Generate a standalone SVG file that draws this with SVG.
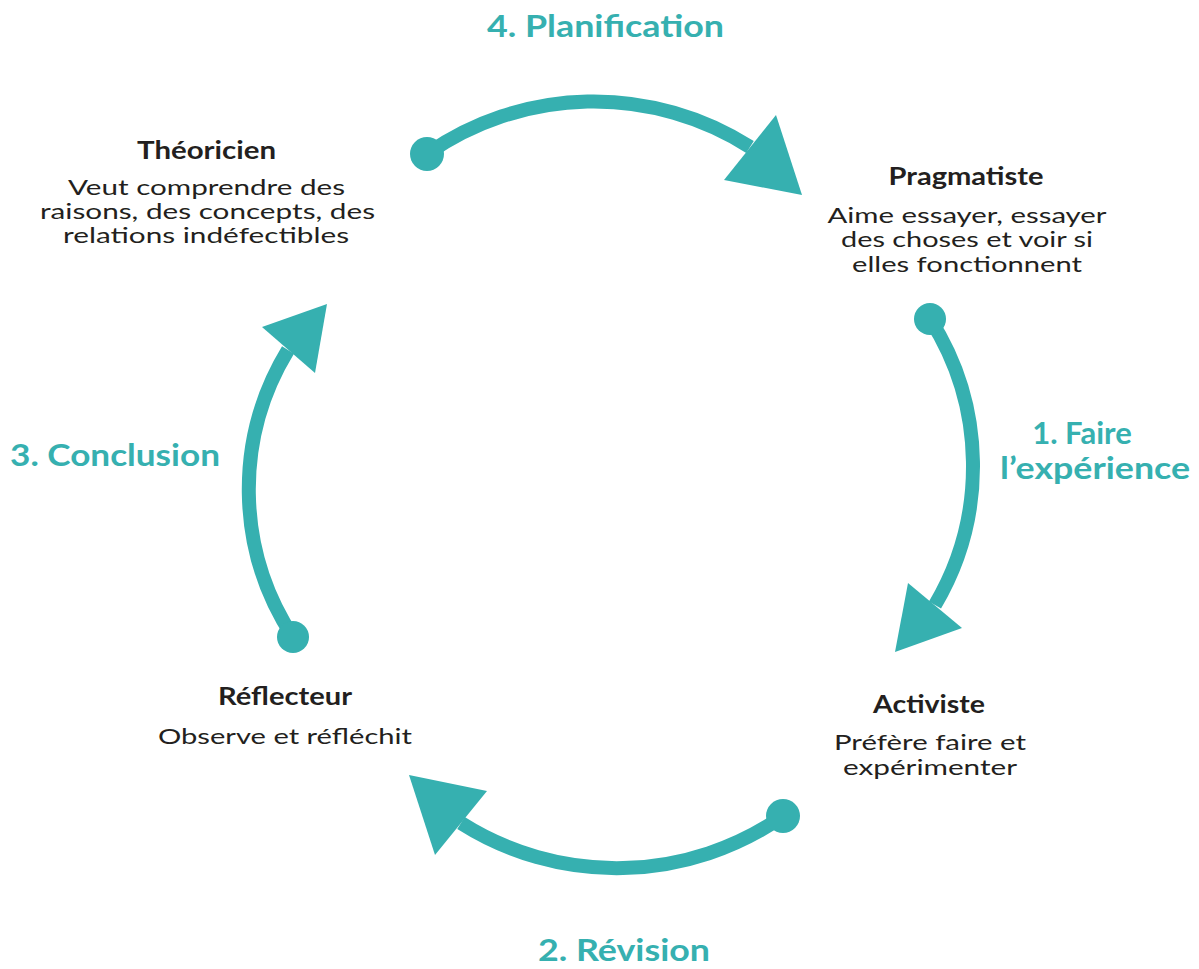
<svg xmlns="http://www.w3.org/2000/svg" width="1199" height="969" viewBox="0 0 1199 969">
<style>
.arc{fill:none;stroke:#36B0B0;stroke-width:14}
.dot,.head{fill:#36B0B0}
.lbl{font-family:Lato,"Open Sans",sans-serif;font-weight:700;font-size:31px;fill:#36B0B0;text-anchor:middle}
.hd{font-family:Lato,"Open Sans",sans-serif;font-weight:700;font-size:25px;fill:#231F20;text-anchor:middle}
.bd{font-family:Lato,"Open Sans",sans-serif;font-weight:400;font-size:22px;fill:#231F20;text-anchor:middle}
</style>
<rect width="1199" height="969" fill="#ffffff"/>
<g id="connectors">
  <g id="arrow-planification">
    <path class="arc" d="M427,154 A291,291 0 0 1 750,147"/>
    <circle class="dot" cx="427" cy="154" r="17"/>
    <polygon class="head" points="776,115 724,180 802,195"/>
  </g>
  <g id="arrow-experience">
    <path class="arc" d="M930,319 A273,273 0 0 1 935,605"/>
    <circle class="dot" cx="930" cy="319" r="16"/>
    <polygon class="head" points="908,583 962,628 895,652"/>
  </g>
  <g id="arrow-revision">
    <path class="arc" d="M783,816 A291,291 0 0 1 461,823"/>
    <circle class="dot" cx="783" cy="816" r="17"/>
    <polygon class="head" points="409,775 487,791 435,855"/>
  </g>
  <g id="arrow-conclusion">
    <path class="arc" d="M293,637 A268,268 0 0 1 288,350"/>
    <circle class="dot" cx="293" cy="637" r="16"/>
    <polygon class="head" points="262,327 327,304 315,373"/>
  </g>
</g>
<g id="label-planification"><text class="lbl" x="605.5" y="37" textLength="237" lengthAdjust="spacingAndGlyphs">4. Planification</text></g>
<g id="label-experience">
  <text class="lbl" x="1082" y="444">1. Faire</text>
  <text class="lbl" x="1095" y="479" textLength="190" lengthAdjust="spacingAndGlyphs">l’expérience</text>
</g>
<g id="label-revision"><text class="lbl" x="624" y="961" textLength="172" lengthAdjust="spacingAndGlyphs">2. Révision</text></g>
<g id="label-conclusion"><text class="lbl" x="115" y="466" textLength="210" lengthAdjust="spacingAndGlyphs">3. Conclusion</text></g>
<g id="node-theoricien">
  <text class="hd" x="206.5" y="159" textLength="139" lengthAdjust="spacingAndGlyphs">Théoricien</text>
  <text class="bd" x="206.5" y="195" textLength="277" lengthAdjust="spacingAndGlyphs">Veut comprendre des</text>
  <text class="bd" x="207.5" y="219" textLength="335" lengthAdjust="spacingAndGlyphs">raisons, des concepts, des</text>
  <text class="bd" x="206" y="243" textLength="286" lengthAdjust="spacingAndGlyphs">relations indéfectibles</text>
</g>
<g id="node-pragmatiste">
  <text class="hd" x="966" y="185" textLength="155" lengthAdjust="spacingAndGlyphs">Pragmatiste</text>
  <text class="bd" x="967" y="223" textLength="279" lengthAdjust="spacingAndGlyphs">Aime essayer, essayer</text>
  <text class="bd" x="967" y="247" textLength="252" lengthAdjust="spacingAndGlyphs">des choses et voir si</text>
  <text class="bd" x="967" y="272" textLength="230" lengthAdjust="spacingAndGlyphs">elles fonctionnent</text>
</g>
<g id="node-activiste">
  <text class="hd" x="929" y="713" textLength="112" lengthAdjust="spacingAndGlyphs">Activiste</text>
  <text class="bd" x="930" y="750" textLength="192" lengthAdjust="spacingAndGlyphs">Préfère faire et</text>
  <text class="bd" x="930" y="775" textLength="174" lengthAdjust="spacingAndGlyphs">expérimenter</text>
</g>
<g id="node-reflecteur">
  <text class="hd" x="285" y="705" textLength="134" lengthAdjust="spacingAndGlyphs">Réflecteur</text>
  <text class="bd" x="285" y="744" textLength="254" lengthAdjust="spacingAndGlyphs">Observe et réfléchit</text>
</g>
</svg>
